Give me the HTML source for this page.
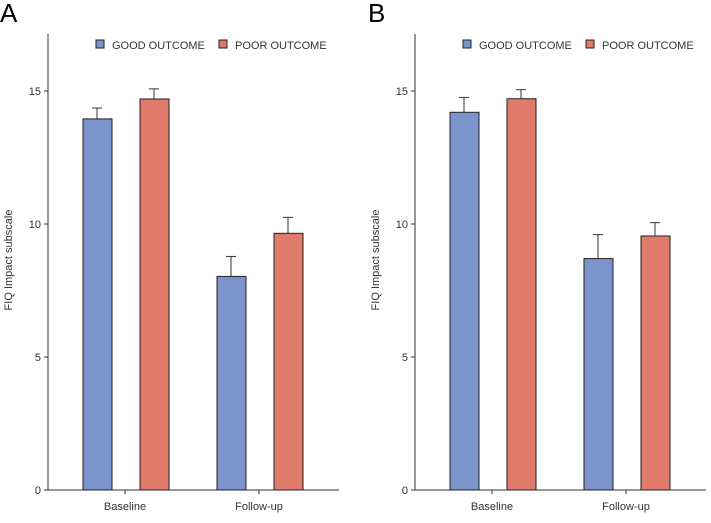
<!DOCTYPE html>
<html><head><meta charset="utf-8"><style>
body{margin:0;background:#fff;width:711px;height:518px;overflow:hidden}
svg{font-family:"Liberation Sans",sans-serif}
</style></head><body>
<svg id="c" width="711" height="518"></svg>
<script>
const categories=["Baseline","Follow-up"];
const goodA=[13.95,8.03], goodAErr=[0.41,0.75];
const poorA=[14.7,9.65], poorAErr=[0.38,0.6];
const goodB=[14.2,8.7], goodBErr=[0.56,0.9];
const poorB=[14.71,9.55], poorBErr=[0.34,0.5];
const yTicks=[0,5,10,15];
const panels=[{label:"A",ox:0,good:goodA,ge:goodAErr,poor:poorA,pe:poorAErr},{label:"B",ox:367,good:goodB,ge:goodBErr,poor:poorB,pe:poorBErr}];
const NS="http://www.w3.org/2000/svg",svg=document.getElementById('c');
function mk(t,a,p){const e=document.createElementNS(NS,t);for(const k in a)e.setAttribute(k,a[k]);(p||svg).appendChild(e);return e;}
const y=v=>490-v*26.6;
panels.forEach((P,pi)=>{
 const g=mk('g',{});
 
 
 const ax=48+P.ox;
 const L=mk('text',{x:P.ox+(pi?1:0),y:22,'font-size':26,fill:'#000'},g);L.textContent=P.label;
 
 const ya=mk('line',{x1:ax,y1:34,x2:ax,y2:490,stroke:'#333','stroke-width':1},g);
 
 const xa=mk('line',{x1:ax,y1:490,x2:ax+291,y2:490,stroke:'#333','stroke-width':1},g);
 
 yTicks.forEach(v=>{mk('line',{x1:ax-4,y1:y(v),x2:ax,y2:y(v),stroke:'#333'},g);
  const t=mk('text',{x:ax-7,y:y(v)+4,'text-anchor':'end','font-size':11,fill:'#333'},g);t.textContent=v;
  });
 const yt=mk('text',{transform:`translate(${ax-36},260) rotate(-90)`,'text-anchor':'middle','font-size':11,fill:'#333'},g);
 yt.textContent='FIQ Impact subscale';
 categories.forEach((c,i)=>{
  const cx=ax+77+i*134;
  mk('line',{x1:cx,y1:490,x2:cx,y2:494,stroke:'#333'},g);
  const t=mk('text',{x:cx,y:510,'text-anchor':'middle','font-size':11,fill:'#333'},g);t.textContent=c;
  
  [[P.good[i],P.ge[i],'#7b93cb',-42,'good'],[P.poor[i],P.pe[i],'#e07b6c',15,'poor']].forEach(([v,e,col,dx,n])=>{
   const x0=cx+dx;
   const el=mk('line',{x1:x0+14,y1:y(v),x2:x0+14,y2:y(v+e),stroke:'#333'},g);
   
   mk('line',{x1:x0+9,y1:y(v+e),x2:x0+19,y2:y(v+e),stroke:'#333'},g);
   const r=mk('rect',{x:x0,y:y(v),width:29,height:490-y(v),fill:col,stroke:'#222','stroke-width':1},g);
   
  });
 });
 [['GOOD OUTCOME','#7b93cb',ax+48],['POOR OUTCOME','#e07b6c',ax+171]].forEach(([t,col,lx])=>{
  const s=mk('rect',{x:lx,y:40,width:8,height:8,fill:col,stroke:'#222'},g);
  
  const tx=mk('text',{x:lx+16,y:49,'font-size':11,fill:'#333'},g);tx.textContent=t;
  
 });
});
</script>
</body></html>
